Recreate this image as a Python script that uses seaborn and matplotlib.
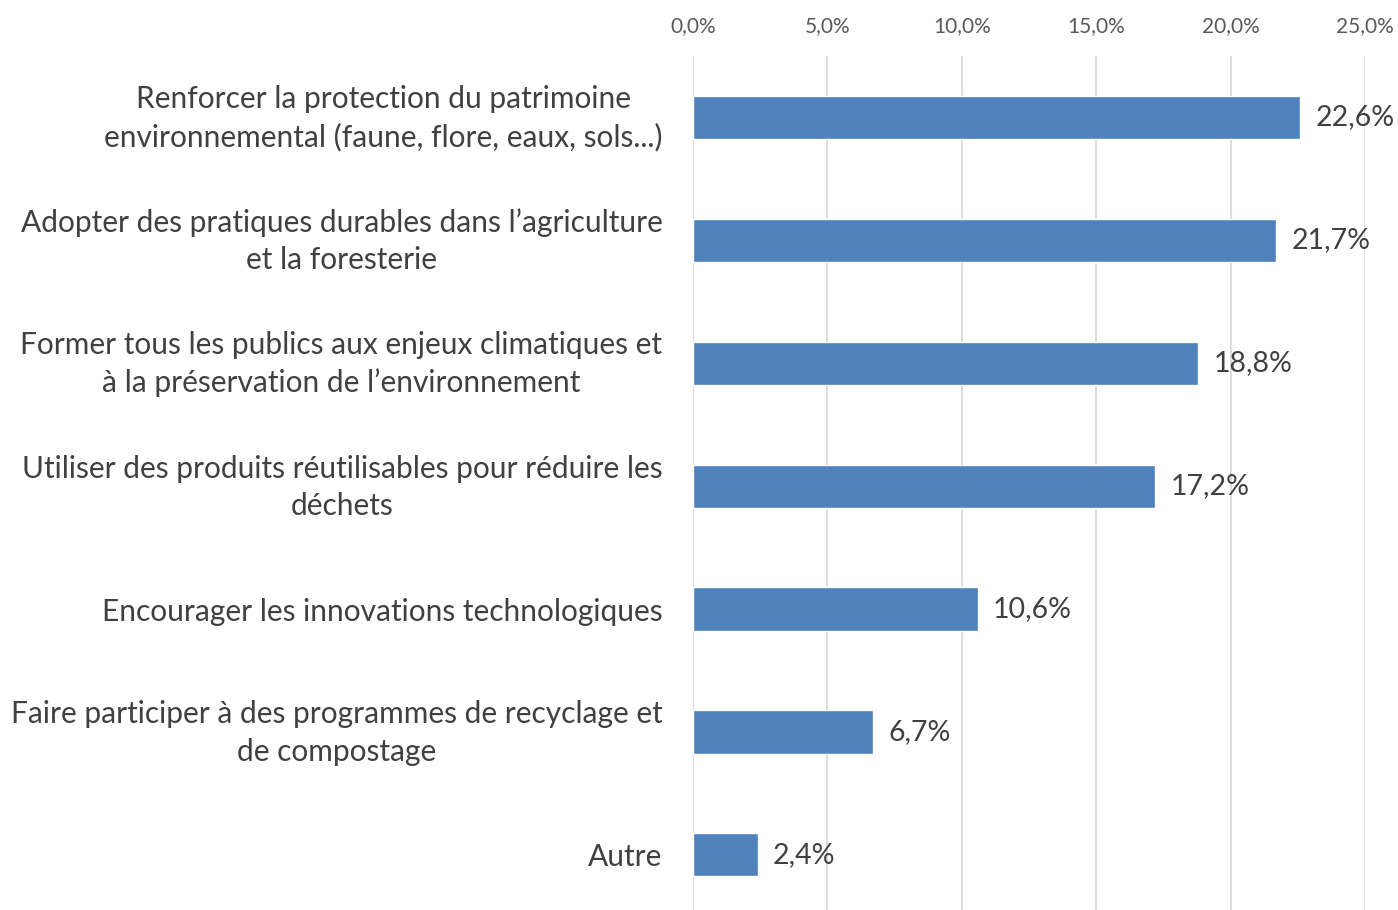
import matplotlib
matplotlib.use("Agg")
import matplotlib.pyplot as plt
import matplotlib.transforms as mtransforms
import seaborn as sns
import pandas as pd
from matplotlib.ticker import FuncFormatter

# data
categories = [
    "Renforcer la protection du patrimoine\nenvironnemental (faune, flore, eaux, sols...)",
    "Adopter des pratiques durables dans l\u2019agriculture\net la foresterie",
    "Former tous les publics aux enjeux climatiques et\n\u00e0 la pr\u00e9servation de l\u2019environnement",
    "Utiliser des produits r\u00e9utilisables pour r\u00e9duire les\nd\u00e9chets",
    "Encourager les innovations technologiques",
    "Faire participer \u00e0 des programmes de recyclage et\nde compostage",
    "Autre",
]
values = [22.6, 21.7, 18.8, 17.2, 10.6, 6.7, 2.4]
x_ticks = [0, 5, 10, 15, 20, 25]

df = pd.DataFrame({"cat": categories, "val": values})

sns.set_style("white")
plt.rcParams["font.family"] = ["Lato", "DejaVu Sans"]

fig = plt.figure(figsize=(13.98, 9.10), dpi=100)
ax = fig.add_axes([0.4957, -0.0071, 0.4807, 0.946])

sns.barplot(data=df, x="val", y="cat", color="#4F81BD", saturation=1, width=0.35, ax=ax)

ax.set_xlim(0, 25)
ax.set_ylim(6.5, -0.5)
ax.set_xticks(x_ticks)
ax.xaxis.set_major_formatter(FuncFormatter(lambda v, p: f"{v:.1f}%".replace(".", ",")))
ax.xaxis.tick_top()
ax.tick_params(axis="x", length=0, labelsize=15, labelcolor="#595959", pad=14)
ax.tick_params(axis="y", length=0, labelsize=21.5, labelcolor="#404040", pad=22)
# two-line labels sit a little higher in the original
shift_up = mtransforms.ScaledTranslation(0, 6 / 100, fig.dpi_scale_trans)
for lbl in ax.get_yticklabels():
    lbl.set_multialignment("center")
    lbl.set_linespacing(1.4)
    if "\n" in lbl.get_text():
        lbl.set_transform(lbl.get_transform() + shift_up)
ax.set_xlabel("")
ax.set_ylabel("")
ax.grid(axis="x", color="#D9D9D9", linewidth=1.3)
ax.set_axisbelow(True)
for s in ax.spines.values():
    s.set_visible(False)

ax.bar_label(ax.containers[0], labels=[f"{v:.1f}%".replace(".", ",") for v in values],
             padding=11, fontsize=20.5, color="#404040", clip_on=False)

fig.savefig("out.png", dpi=100)
